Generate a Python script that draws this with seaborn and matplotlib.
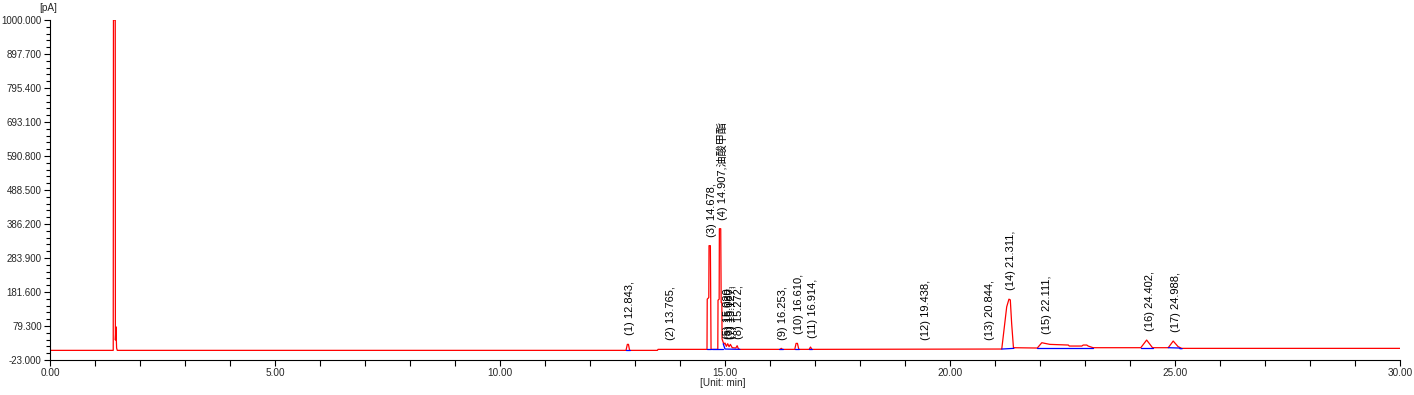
import numpy as np
import pandas as pd
import matplotlib
matplotlib.use('Agg')
import matplotlib.pyplot as plt
import seaborn as sns
from matplotlib.ticker import MultipleLocator, AutoMinorLocator, FormatStrFormatter

# red signal trace (time [min], signal [pA])
sig_time = [0, 1.405, 1.41, 1.45, 1.453, 1.465, 1.48, 1.495,
            12.80, 12.83, 12.855, 12.88, 13.50, 13.51,
            14.60, 14.605, 14.64, 14.645, 14.675, 14.69,
            14.84, 14.845, 14.87, 14.875, 14.905, 14.915, 14.93, 14.935, 14.96, 14.98,
            15.0, 15.03, 15.06, 15.09, 15.12, 15.16, 15.24, 15.27, 15.30, 15.33,
            16.22, 16.25, 16.28, 16.55, 16.58, 16.61, 16.64, 16.87, 16.90, 16.93,
            21.15, 21.26, 21.31, 21.34, 21.37, 21.41,
            21.94, 22.04, 22.11, 22.22, 22.63, 22.65, 22.93, 22.96, 23.04, 23.07, 23.18,
            24.24, 24.37, 24.50, 24.85, 24.96, 25.07, 25.15, 30.0]
sig_val = [6, 6, 1000, 1000, 37, 77, 13, 6,
           6, 24, 24, 6, 6, 9,
           9, 160, 165, 321, 321, 9,
           9, 157, 160, 372, 372, 150, 150, 40, 30, 25,
           28, 18, 26, 17, 24, 14, 13, 20, 10, 9,
           9, 12, 9, 9, 27, 27, 9, 9, 16, 9,
           10, 137, 160, 158, 87, 14,
           13, 29, 27, 24, 22, 19, 19, 22, 22, 19, 14,
           14, 37, 14, 14, 34, 17, 12, 12]

# blue integration baselines
base_seg = [1, 1, 2, 2, 3, 3, 4, 4, 4, 5, 5, 6, 6, 7, 7, 8, 8, 9, 9, 10, 10, 11, 11, 11, 11]
base_time = [12.80, 12.88, 14.60, 14.69, 14.70, 14.95, 14.96, 15.0, 15.33,
             16.21, 16.29, 16.56, 16.64, 16.86, 16.94, 21.15, 21.42,
             21.94, 23.18, 24.24, 24.50, 24.85, 25.10, 25.11, 25.16]
base_val = [6, 6, 9, 9, 9, 9, 26, 10, 9,
            9, 9, 9, 9, 9, 9, 10, 12,
            13, 13, 14, 14, 14, 13, 11, 11]

# peak labels
peak_no = list(range(1, 18))
peak_rt = [12.843, 13.765, 14.678, 14.907, 15.020, 15.080, 15.127, 15.272, 16.253,
           16.610, 16.914, 19.438, 20.844, 21.311, 22.111, 24.402, 24.988]
peak_h = [24, 9, 321, 372, 12, 12, 12, 12, 10, 27, 17, 10, 11, 160, 29, 37, 34]
peak_name = {4: '油酸甲酯'}

df_sig = pd.DataFrame({'time': sig_time, 'signal': sig_val})
df_base = pd.DataFrame({'seg': base_seg, 'time': base_time, 'signal': base_val})

sns.set_theme(style="white")
plt.rcParams['font.family'] = ['Liberation Sans', 'Noto Sans CJK SC', 'DejaVu Sans']

fig = plt.figure(figsize=(14.14, 3.95), dpi=100)
ax = fig.add_axes([50 / 1414, 35 / 395, 1350 / 1414, 340 / 395])

sns.lineplot(x='time', y='signal', data=df_sig, ax=ax, color='#ff0000', lw=0.9,
             sort=False, estimator=None, zorder=2)
sns.lineplot(x='time', y='signal', data=df_base, units='seg', ax=ax, color='#0000ff', lw=0.9,
             sort=False, estimator=None, zorder=3)

for n, rt, h in zip(peak_no, peak_rt, peak_h):
    txt = '(%d) %.3f,%s' % (n, rt, peak_name.get(n, ''))
    ax.annotate(txt, xy=(rt, h), xytext=(1.2, 6.5), textcoords='offset points',
                rotation=90, ha='center', va='bottom', fontsize=8, color='black')

ax.set_xlim(0, 30)
ax.set_ylim(-23, 1000)
ax.xaxis.set_major_locator(MultipleLocator(5))
ax.xaxis.set_minor_locator(MultipleLocator(1))
ax.xaxis.set_major_formatter(FormatStrFormatter('%.2f'))
ax.yaxis.set_major_formatter(FormatStrFormatter('%.3f'))
ax.set_yticks([-23 + 102.3 * i for i in range(11)])
ax.yaxis.set_minor_locator(AutoMinorLocator(5))

ax.tick_params(axis='both', which='both', direction='out', color='black', width=0.8,
               bottom=True, left=True)
ax.tick_params(axis='y', which='both', pad=2, labelsize=7)
ax.tick_params(axis='x', which='both', pad=1.5, labelsize=7.2)
ax.tick_params(axis='both', which='major', length=4)
ax.tick_params(axis='y', which='minor', length=3)
ax.tick_params(axis='x', which='minor', length=4)

for s in ['top', 'right']:
    ax.spines[s].set_visible(False)
for s in ['left', 'bottom']:
    ax.spines[s].set_color('black')
    ax.spines[s].set_linewidth(0.8)

ax.set_xlabel('')
ax.set_ylabel('')
fig.text(48.5 / 1414, 1 - 8 / 395, '[pA]', ha='center', va='center', fontsize=7.2)
fig.text(723 / 1414, 1 - 383 / 395, '[Unit: min]', ha='center', va='center', fontsize=7.2)

fig.savefig('out.png', dpi=100)
